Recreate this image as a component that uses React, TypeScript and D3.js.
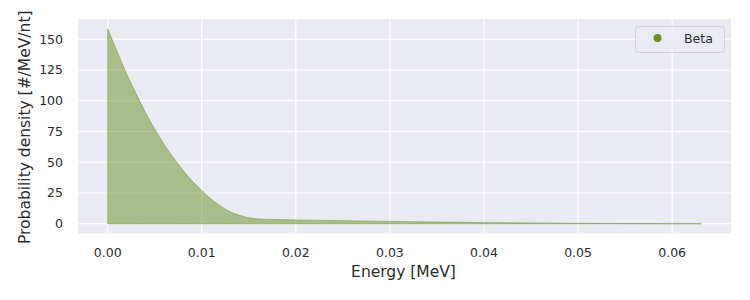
import React from "react";
import * as d3 from "d3";

const energy = [0, 0.001, 0.002, 0.003, 0.004, 0.005, 0.006, 0.007, 0.008, 0.009, 0.010, 0.011, 0.012, 0.013, 0.014, 0.015, 0.016, 0.018, 0.020, 0.025, 0.030, 0.035, 0.040, 0.045, 0.050, 0.055, 0.060, 0.0631];
const density = [158.5, 140, 122, 106, 90.5, 77, 64.5, 53.5, 43.5, 34.5, 27, 20, 14.3, 9.8, 6.9, 4.9, 3.9, 3.4, 3.1, 2.5, 1.9, 1.4, 0.9, 0.6, 0.35, 0.15, 0.05, 0];
const xTicks = [0, 0.01, 0.02, 0.03, 0.04, 0.05, 0.06];
const yTicks = [0, 25, 50, 75, 100, 125, 150];
const seriesName = "Beta";

const W = 750, H = 300;
const L = 78, R = 731, T = 19, B = 233.5;
const FONT = "'DejaVu Sans', sans-serif";
const COLOR = "#6b8e23";
const TXT = "#2b2b2b";

export default function App() {
  const x = d3.scaleLinear().domain([-0.003155, 0.066255]).range([L, R]);
  const y = d3.scaleLinear().domain([-7.925, 166.425]).range([B, T]);
  const pts = energy.map((e, i) => [e, density[i]] as [number, number]);
  const area = d3.area<[number, number]>().x(d => x(d[0])).y0(y(0)).y1(d => y(d[1])).curve(d3.curveMonotoneX);
  const areaPath = area(pts) + "";
  return (
    <div style={{ position: "absolute", left: 0, top: 0 }}>
      <svg width={W} height={H} style={{ display: "block", fontFamily: FONT }}>
        <rect x={0} y={0} width={W} height={H} fill="#ffffff" />
        <rect x={L} y={T} width={R - L} height={B - T} fill="#eaeaf2" />
        {xTicks.map(t => (
          <line key={"gx" + t} x1={x(t)} x2={x(t)} y1={T} y2={B} stroke="#ffffff" strokeWidth={1.1} />
        ))}
        {yTicks.map(t => (
          <line key={"gy" + t} x1={L} x2={R} y1={y(t)} y2={y(t)} stroke="#ffffff" strokeWidth={1.1} />
        ))}
        <path d={areaPath} fill={COLOR} fillOpacity={0.5} stroke={COLOR} strokeOpacity={0.5} strokeWidth={1} />
        {xTicks.map(t => (
          <text key={"tx" + t} x={x(t)} y={257} textAnchor="middle" fontSize={12.5} fill={TXT}>
            {d3.format(".2f")(t)}
          </text>
        ))}
        {yTicks.map(t => (
          <text key={"ty" + t} x={63} y={y(t) + 4.5} textAnchor="end" fontSize={12.5} fill={TXT}>
            {t}
          </text>
        ))}
        <text x={(L + R) / 2 - 1} y={277} textAnchor="middle" fontSize={15.5} fill={TXT}>Energy [MeV]</text>
        <text transform={`translate(30,${(T + B) / 2 + 1}) rotate(-90)`} textAnchor="middle" fontSize={15.5} fill={TXT}>
          Probability density [#/MeV/nt]
        </text>
        <rect x={635.5} y={26.5} width={89} height={26} rx={3} fill="#eaeaf2" fillOpacity={0.8} stroke="#d0d0d6" strokeWidth={1} />
        <circle cx={657.5} cy={38} r={4} fill={COLOR} />
        <text x={684} y={43} fontSize={12.5} fill={TXT}>{seriesName}</text>
      </svg>
    </div>
  );
}
